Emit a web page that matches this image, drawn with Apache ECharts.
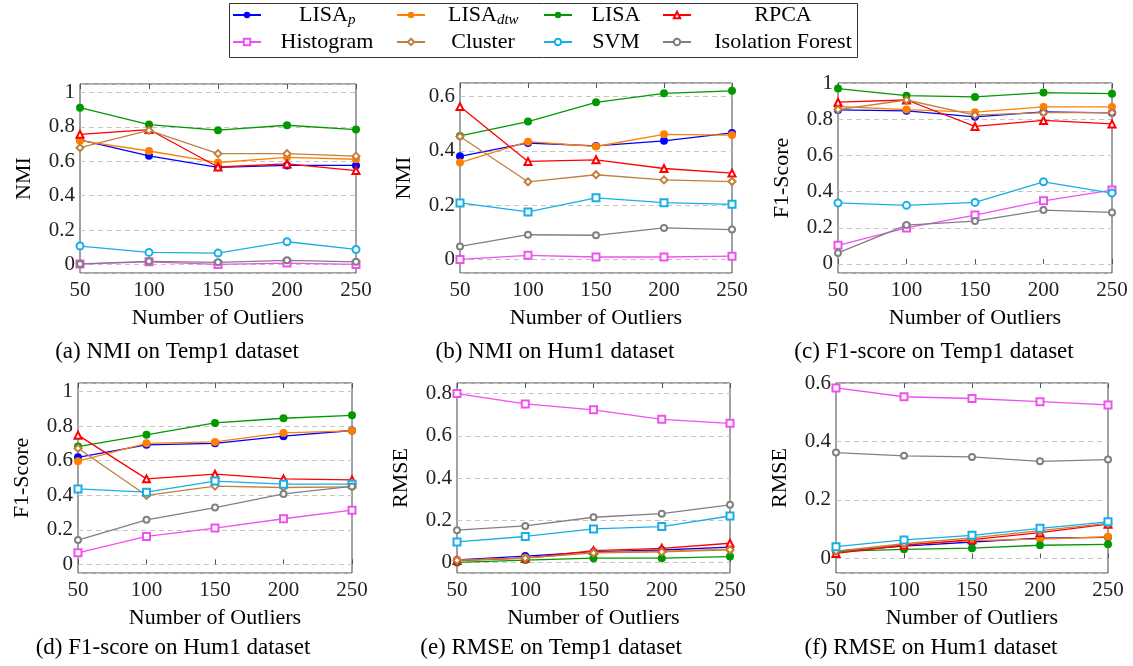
<!DOCTYPE html>
<html>
<head>
<meta charset="utf-8">
<script src="https://cdn.jsdelivr.net/npm/echarts@6/dist/echarts.min.js"></script>
<style>
  html, body { margin: 0; padding: 0; background: #fff; }
  #chart { width: 1133px; height: 666px; }
</style>
</head>
<body>
<div id="chart"></div>
<script>
var FONT = 'Liberation Serif';

var outliers = [50, 100, 150, 200, 250];
var methods = ['LISA_p', 'LISA_dtw', 'LISA', 'RPCA', 'Histogram', 'Cluster', 'SVM', 'Isolation Forest'];
var colors = ['#0000ff', '#ff8000', '#009900', '#ff0000', '#f050f0', '#bf8040', '#18aee8', '#808080'];

// rows follow the order of methods
var nmiTemp1 = [
  [0.725, 0.632, 0.565, 0.576, 0.576],
  [0.720, 0.660, 0.593, 0.623, 0.612],
  [0.912, 0.814, 0.781, 0.810, 0.785],
  [0.757, 0.785, 0.567, 0.585, 0.546],
  [0.002, 0.015, 0.000, 0.008, 0.000],
  [0.679, 0.780, 0.645, 0.645, 0.630],
  [0.107, 0.070, 0.066, 0.132, 0.087],
  [0.003, 0.018, 0.012, 0.024, 0.015]
];
var nmiHum1 = [
  [0.380, 0.429, 0.418, 0.437, 0.466],
  [0.357, 0.434, 0.416, 0.461, 0.458],
  [0.455, 0.508, 0.579, 0.612, 0.621],
  [0.563, 0.361, 0.367, 0.335, 0.318],
  [0.000, 0.015, 0.009, 0.009, 0.012],
  [0.453, 0.286, 0.312, 0.293, 0.287],
  [0.208, 0.175, 0.227, 0.209, 0.203],
  [0.048, 0.091, 0.089, 0.116, 0.110]
];
var f1Temp1 = [
  [0.851, 0.846, 0.813, 0.840, 0.835],
  [0.870, 0.853, 0.839, 0.868, 0.868],
  [0.969, 0.930, 0.923, 0.947, 0.941],
  [0.894, 0.906, 0.760, 0.793, 0.774],
  [0.103, 0.199, 0.270, 0.349, 0.408],
  [0.853, 0.906, 0.822, 0.836, 0.836],
  [0.337, 0.324, 0.340, 0.454, 0.392],
  [0.061, 0.215, 0.237, 0.298, 0.285]
];
var f1Hum1 = [
  [0.620, 0.692, 0.701, 0.742, 0.775],
  [0.597, 0.701, 0.709, 0.761, 0.773],
  [0.682, 0.750, 0.819, 0.846, 0.863],
  [0.748, 0.495, 0.522, 0.495, 0.489],
  [0.067, 0.162, 0.210, 0.264, 0.314],
  [0.672, 0.399, 0.453, 0.445, 0.449],
  [0.437, 0.418, 0.482, 0.464, 0.464],
  [0.141, 0.258, 0.329, 0.408, 0.451]
];
var rmseTemp1 = [
  [0.012, 0.030, 0.050, 0.059, 0.073],
  [0.011, 0.022, 0.047, 0.053, 0.063],
  [0.000, 0.011, 0.020, 0.020, 0.028],
  [0.009, 0.020, 0.056, 0.067, 0.091],
  [0.800, 0.751, 0.723, 0.678, 0.659],
  [0.010, 0.020, 0.045, 0.050, 0.060],
  [0.097, 0.123, 0.159, 0.170, 0.220],
  [0.153, 0.173, 0.214, 0.231, 0.273]
];
var rmseHum1 = [
  [0.024, 0.042, 0.056, 0.069, 0.072],
  [0.025, 0.046, 0.061, 0.066, 0.074],
  [0.024, 0.031, 0.035, 0.045, 0.048],
  [0.017, 0.045, 0.064, 0.088, 0.117],
  [0.583, 0.553, 0.547, 0.536, 0.525],
  [0.025, 0.050, 0.070, 0.095, 0.120],
  [0.040, 0.063, 0.079, 0.103, 0.125],
  [0.362, 0.351, 0.347, 0.332, 0.338]
];

var panels = [
  { data: nmiTemp1,  yName: 'NMI',      yMax: 1.05, split: 5, svm: 'emptyCircle', caption: '(a) NMI on Temp1 dataset',      grid: { left: 80,  top: 84,  width: 276, height: 189 }, capX: 177 },
  { data: nmiHum1,   yName: 'NMI',      yMax: 0.65, split: 3, svm: 'emptyRect',   caption: '(b) NMI on Hum1 dataset',       grid: { left: 460, top: 83,  width: 272, height: 190 }, capX: 555 },
  { data: f1Temp1,   yName: 'F1-Score', yMax: 1.0,  split: 5, svm: 'emptyCircle', caption: '(c) F1-score on Temp1 dataset', grid: { left: 838, top: 83,  width: 274, height: 190 }, capX: 934 },
  { data: f1Hum1,    yName: 'F1-Score', yMax: 1.05, split: 5, svm: 'emptyRect',   caption: '(d) F1-score on Hum1 dataset',  grid: { left: 78,  top: 383, width: 274, height: 190 }, capX: 173 },
  { data: rmseTemp1, yName: 'RMSE',     yMax: 0.85, split: 4, svm: 'emptyRect',   caption: '(e) RMSE on Temp1 dataset',     grid: { left: 457, top: 383, width: 273, height: 190 }, capX: 551 },
  { data: rmseHum1,  yName: 'RMSE',     yMax: 0.6,  split: 3, svm: 'emptyRect',   caption: '(f) RMSE on Hum1 dataset',      grid: { left: 836, top: 383, width: 272, height: 190 }, capX: 931 }
];

var symbols = ['circle', 'circle', 'circle', 'emptyTriangle', 'emptyRect', 'emptyDiamond', null, 'emptyCircle'];
var symbolSizes = [8, 8, 8, 7, 7, 7, 7, 6];

function yLabel(v) {
  if (v < -1e-6) return '';
  var r = Math.round(v * 5) / 5;
  if (Math.abs(v - r) > 1e-6) return '';
  if (Math.abs(r) < 1e-6) return '0';
  if (Math.abs(r - 1) < 1e-6) return '1';
  return r.toFixed(1);
}

var grids = [], xAxes = [], xTopAxes = [], yAxes = [], series = [], graphics = [];

panels.forEach(function (p, i) {
  grids.push(Object.assign({ show: true, borderColor: '#444', borderWidth: 1, containLabel: false, outerBoundsMode: 'none' }, p.grid));
  xAxes.push({
    gridIndex: i, type: 'value', min: 50, max: 250, interval: 50,
    axisLine: { show: false },
    axisTick: { inside: true, length: 5, lineStyle: { color: '#555' } },
    axisLabel: { margin: 7, fontFamily: FONT, fontSize: 21, color: '#222' },
    splitLine: { show: false },
    name: 'Number of Outliers', nameLocation: 'middle', nameGap: 34,
    nameTextStyle: { fontFamily: FONT, fontSize: 22, color: '#000' }
  });
  xTopAxes.push({
    gridIndex: i, type: 'value', position: 'top', min: 50, max: 250, interval: 50,
    axisLine: { show: false },
    axisTick: { inside: true, length: 5, lineStyle: { color: '#555' } },
    axisLabel: { show: false },
    splitLine: { show: false }
  });
  yAxes.push({
    gridIndex: i, type: 'value', min: -0.05, max: p.yMax, splitNumber: p.split,
    axisLine: { show: false },
    axisTick: { show: false },
    axisLabel: { margin: 5, fontFamily: FONT, fontSize: 21, color: '#222', formatter: yLabel },
    splitLine: { lineStyle: { color: '#c4c4c4', type: [5, 4], width: 1 } },
    name: p.yName, nameLocation: 'middle', nameGap: 45,
    nameTextStyle: { fontFamily: FONT, fontSize: 22, color: '#000' }
  });

  methods.forEach(function (m, k) {
    series.push({
      name: m, type: 'line', xAxisIndex: i, yAxisIndex: i,
      data: outliers.map(function (x, j) { return [x, p.data[k][j]]; }),
      symbol: symbols[k] || p.svm,
      symbolSize: symbolSizes[k],
      showSymbol: true,
      itemStyle: { color: colors[k], borderWidth: 1.2 },
      lineStyle: { color: colors[k], width: 1.3 },
      emphasis: { disabled: true },
      z: 2 + k
    });
  });

  graphics.push({
    type: 'text', x: p.capX, y: i < 3 ? 352 : 648,
    style: { text: p.caption, fontFamily: FONT, fontSize: 23, fill: '#000', align: 'center', verticalAlign: 'middle' }
  });
});

// legend box
graphics.push({
  type: 'rect', shape: { x: 229.5, y: 3.5, width: 628, height: 54 },
  style: { fill: 'none', stroke: '#333', lineWidth: 1 }, z: 10
});

var iconLeft = [232, 396, 543, 662];
var colWidth = [122, 106, 78, 174];
var rowTop = [4, 31];

var legends = methods.map(function (m, k) {
  var c = k % 4;
  var fmt, rich = {
    t: { fontFamily: FONT, fontSize: 22, color: '#000', width: colWidth[c], align: 'center' },
    a: { fontFamily: FONT, fontSize: 22, color: '#000' },
    s: { fontFamily: FONT, fontSize: 15, fontStyle: 'italic', color: '#000', padding: [10, 0, 0, 0] }
  };
  if (m === 'LISA_p') {
    rich.a.padding = [0, 0, 0, 33];
    fmt = '{a|LISA}{s|p}';
  } else if (m === 'LISA_dtw') {
    rich.a.padding = [0, 0, 0, 18];
    fmt = '{a|LISA}{s|dtw}';
  } else {
    fmt = '{t|' + m + '}';
  }
  return {
    data: [m], left: iconLeft[c], top: rowTop[Math.floor(k / 4)],
    itemWidth: 28, itemHeight: 8, padding: 0, selectedMode: false,
    formatter: function () { return fmt; },
    textStyle: { rich: rich }
  };
});

var chart = echarts.init(document.getElementById('chart'), null, { renderer: 'canvas' });
chart.setOption({
  animation: false,
  backgroundColor: '#fff',
  grid: grids,
  xAxis: xAxes.concat(xTopAxes),
  yAxis: yAxes,
  legend: legends,
  series: series,
  graphic: graphics
});
</script>
</body>
</html>
